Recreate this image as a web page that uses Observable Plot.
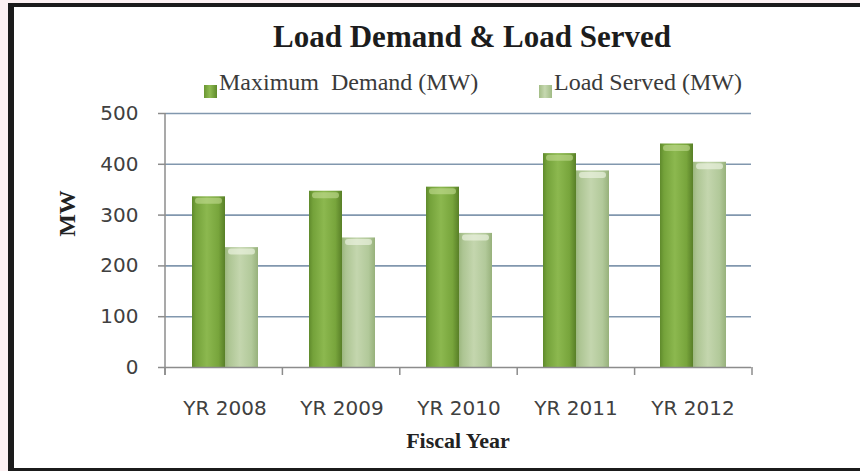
<!DOCTYPE html>
<html><head><meta charset="utf-8">
<script src="https://cdn.jsdelivr.net/npm/d3@7"></script>
<script src="https://cdn.jsdelivr.net/npm/@observablehq/plot@0.6"></script>
<style>
html,body{margin:0;padding:0;width:860px;height:471px;overflow:hidden;background:#fcf1f3;}
#frame{position:absolute;left:8px;top:3px;width:846px;height:461px;background:#fff;
  border-left:6px solid #1b1b1b;border-top:4px solid #1b1b1b;border-bottom:3px solid #1b1b1b;}
#title{position:absolute;left:158px;top:12px;width:600px;line-height:40px;text-align:center;
  font:bold 31px "Liberation Serif",serif;color:#1c1c1c;white-space:nowrap;}
.leg{position:absolute;top:62px;line-height:30px;font:24px "Liberation Serif",serif;color:#3a3a3a;white-space:pre;}
.sw{position:absolute;top:78px;width:13px;height:13px;}
#chart{position:absolute;left:0;top:94px;}
#ylab{position:absolute;left:13px;top:193px;width:80px;line-height:26px;text-align:center;
  font:bold 24px "Liberation Serif",serif;color:#222;transform:rotate(-90deg);}
#xlab{position:absolute;left:344px;top:421px;width:200px;line-height:24px;text-align:center;
  font:bold 22px "Liberation Serif",serif;color:#222;}
</style></head>
<body>
<div id="frame">
  <div id="title"></div>
  <div class="sw" id="sw1" style="left:190px;background:linear-gradient(90deg,#6a9632,#8fbb52 45%,#5e8a2b);"></div>
  <div class="leg" id="leg1" style="left:205px;"></div>
  <div class="sw" id="sw2" style="left:525px;background:linear-gradient(90deg,#a3bd86,#c6d8b0 45%,#a0bb85);"></div>
  <div class="leg" id="leg2" style="left:540px;"></div>
  <div id="chart"></div>
  <div id="ylab"></div>
  <div id="xlab"></div>
</div>
<script>
const titleText = "Load Demand & Load Served";
const yTitle = "MW";
const xTitle = "Fiscal Year";
const years = ["YR 2008", "YR 2009", "YR 2010", "YR 2011", "YR 2012"];
const seriesNames = ["Maximum  Demand (MW)", "Load Served (MW)"];
const maxDemand = [336, 347, 355, 421, 440];
const loadServed = [236, 255, 264, 387, 404];
const yTicks = [0, 100, 200, 300, 400, 500];
const gridTicks = [100, 200, 300, 400, 500];

document.getElementById("title").textContent = titleText;
document.getElementById("leg1").textContent = seriesNames[0];
document.getElementById("leg2").textContent = seriesNames[1];
document.getElementById("ylab").textContent = yTitle;
document.getElementById("xlab").textContent = xTitle;

const rows = years.flatMap((yr, i) => [
  {year: yr, series: seriesNames[0], value: maxDemand[i]},
  {year: yr, series: seriesNames[1], value: loadServed[i]}
]);
const isDemand = d => d.series === seriesNames[0];
const isServed = d => d.series === seriesNames[1];

const chart = Plot.plot({
  width: 846, height: 324,
  marginLeft: 151, marginRight: 108, marginTop: 12, marginBottom: 58,
  style: {background: "transparent", fontFamily: "DejaVu Sans", fontSize: "20px", color: "#404040", overflow: "visible"},
  fx: {domain: years, padding: 0, label: null},
  x: {domain: seriesNames, paddingInner: 0, paddingOuter: 0.728, axis: null},
  y: {domain: [0, 500], axis: null},
  marks: [
    Plot.ruleY(gridTicks, {stroke: "#8197ae", strokeWidth: 1.6}),
    Plot.barY(rows, {filter: isDemand, fx: "year", x: "series", y: "value", fill: "url(#gDemand)"}),
    Plot.barY(rows, {filter: isServed, fx: "year", x: "series", y: "value", fill: "url(#gServed)"}),
    // cylinder cap highlight at the top of each bar
    Plot.tickY(rows, {filter: isDemand, fx: "year", x: "series", y: "value", stroke: "#c3dc92", strokeOpacity: 0.6, strokeWidth: 6, dy: 4, insetLeft: 6, insetRight: 6, strokeLinecap: "round"}),
    Plot.tickY(rows, {filter: isServed, fx: "year", x: "series", y: "value", stroke: "#eef4e4", strokeOpacity: 0.65, strokeWidth: 6, dy: 4, insetLeft: 6, insetRight: 6, strokeLinecap: "round"}),
    Plot.ruleY([0], {stroke: "#8c8c8c", strokeWidth: 1.5}),
    Plot.axisY({ticks: yTicks, tickSize: 8, tickPadding: 20, stroke: "#8c8c8c", strokeWidth: 1.5, fill: "#404040", fontSize: 20, tickFormat: d => String(d), label: null}),
    Plot.axisFx({anchor: "bottom", tickSize: 0, tickPadding: 33, fill: "#404040", fontSize: 20, label: null})
  ]
});

const svg = d3.select(chart);
const defs = svg.insert("defs", ":first-child");
function grad(id, stops) {
  const g = defs.append("linearGradient").attr("id", id).attr("x1", 0).attr("x2", 1).attr("y1", 0).attr("y2", 0);
  stops.forEach(([o, c]) => g.append("stop").attr("offset", o).attr("stop-color", c));
}
grad("gDemand", [["0%", "#5f8a2c"], ["12%", "#74a23a"], ["45%", "#8cb84f"], ["80%", "#78a53c"], ["100%", "#587f27"]]);
grad("gServed", [["0%", "#9cb77f"], ["12%", "#adc593"], ["45%", "#c4d6ae"], ["80%", "#b2c99a"], ["100%", "#97b17b"]]);

// axis line and category boundary ticks, from the library's scales
const fxs = chart.scale("fx");
const ys = chart.scale("y");
const [r0, r1] = fxs.range;
const [yb, yt] = ys.range;
const g = svg.append("g").attr("stroke", "#8c8c8c").attr("stroke-width", 1.5);
g.append("line").attr("x1", r0).attr("x2", r0).attr("y1", yt).attr("y2", yb + 8);
const n = fxs.domain.length;
d3.range(n + 1).forEach(i => {
  const x = r0 + i * (r1 - r0) / n;
  g.append("line").attr("x1", x).attr("x2", x).attr("y1", yb).attr("y2", yb + 8);
});

document.getElementById("chart").appendChild(chart);
</script>
</body></html>
